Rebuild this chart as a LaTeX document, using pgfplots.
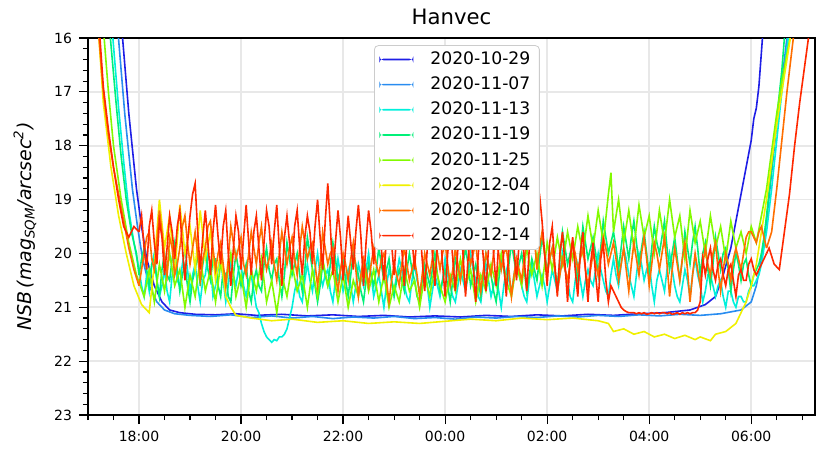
\documentclass[border=0pt]{standalone}
\usepackage{fontspec}
\setmainfont{DejaVu Sans}
\usepackage{pgfplots}
\usepackage{pgfplotstable}
\pgfplotsset{compat=1.18}
\definecolor{c1}{RGB}{30,30,230}
\definecolor{c2}{RGB}{40,140,240}
\definecolor{c3}{RGB}{0,240,220}
\definecolor{c4}{RGB}{0,240,120}
\definecolor{c5}{RGB}{130,250,0}
\definecolor{c6}{RGB}{240,240,0}
\definecolor{c7}{RGB}{255,110,0}
\definecolor{c8}{RGB}{255,40,0}
\pgfplotsset{
  lg/.style={legend image code/.code={\fill[fill=#1, draw=none] (0pt,-0.4pt) rectangle (17pt,0.4pt);}},
}
\pgfplotstableread{
x H G C D
18.00 19.6 20.6 20.3 20.4
18.05 19.3 20.3 20.6 20.1
18.10 19.9 20.0 20.8 19.9
18.15 20.3 19.7 20.4 20.3
18.20 19.5 19.6 20.7 20.6
18.25 19.2 20.1 20.2 20.2
18.30 19.8 20.3 20.0 20.1
18.35 20.2 19.8 20.5 20.5
18.40 19.4 19.2 20.8 20.8
18.45 19.7 19.6 20.6 20.3
18.50 20.4 20.1 20.3 20.0
18.55 19.9 20.4 20.7 20.4
18.60 19.3 19.7 20.9 20.5
18.65 19.6 19.9 20.4 20.1
18.70 20.1 20.4 20.1 19.8
18.75 19.5 20.2 20.5 20.3
18.80 19.2 19.9 20.6 20.7
18.85 19.9 19.5 20.2 20.4
18.90 20.5 19.3 19.9 20.2
18.95 19.8 19.8 20.3 20.6
19.00 19.3 20.2 20.7 20.9
19.05 18.9 19.9 20.4 20.5
19.10 18.7 19.6 20.2 20.3
19.15 19.6 20.0 20.6 20.0
19.20 20.3 20.5 20.9 20.6
19.25 19.7 20.1 20.5 20.2
19.30 19.2 19.9 20.4 19.9
19.35 19.8 19.5 20.0 20.3
19.40 20.4 19.4 20.2 20.5
19.45 19.6 19.9 20.8 20.1
19.50 19.1 20.3 20.6 20.1
19.55 19.7 20.0 20.3 20.6
19.60 20.2 19.8 20.1 20.8
19.65 19.5 20.2 20.5 20.3
19.70 19.2 20.6 20.9 20.4
19.75 20.0 20.1 20.6 20.8
19.80 20.6 19.5 20.1 20.9
19.85 19.9 19.8 20.4 20.4
19.90 19.3 20.1 20.6 20.0
19.95 19.6 19.9 20.3 20.3
20.00 20.3 19.7 20.2 20.6
20.05 19.7 20.2 20.6 20.4
20.10 19.1 20.4 20.8 20.2
20.15 19.8 20.0 20.5 20.7
20.20 20.4 19.6 20.4 20.9
20.25 19.6 19.9 20.7 20.5
20.30 19.3 20.2 21.0 20.3
20.35 19.9 19.8 21.1 20.6
20.40 20.5 19.5 21.3 20.7
20.45 19.8 20.0 21.45 20.2
20.50 19.2 20.3 21.55 19.9
20.55 19.5 20.1 21.6 20.3
20.60 20.2 19.8 21.65 20.5
20.65 19.6 20.2 21.6 20.2
20.70 19.1 20.5 21.62 20.1
20.75 19.9 20.0 21.55 20.5
20.80 20.6 19.6 21.55 20.8
20.85 19.7 19.9 21.5 20.4
20.90 19.3 20.2 21.4 19.8
20.95 19.8 19.9 21.2 20.1
21.00 20.3 19.7 21.0 20.4
21.05 19.5 20.1 20.7 20.2
21.10 19.2 20.4 20.5 20.0
21.15 19.9 19.9 20.8 20.4
21.20 20.4 19.5 20.9 20.7
21.25 19.7 19.8 20.5 20.3
21.30 19.3 20.1 20.2 19.7
21.35 19.6 19.9 20.5 20.0
21.40 20.2 19.8 20.7 20.3
21.45 19.5 20.2 20.3 20.6
21.50 19.0 20.6 20.0 20.9
21.55 19.7 20.2 20.4 20.6
21.60 20.3 19.6 20.6 20.2
21.65 19.4 19.9 20.4 20.4
21.70 18.7 20.2 20.3 20.6
21.75 19.5 20.0 20.7 20.2
21.80 20.4 19.9 20.9 19.8
21.85 19.8 20.4 20.5 20.1
21.90 19.2 20.7 20.1 20.5
21.95 19.7 20.3 20.4 20.3
22.00 20.5 20.0 20.7 20.1
22.05 19.9 20.2 20.5 20.5
22.10 19.3 20.5 20.3 20.8
22.15 19.8 20.1 20.6 20.4
22.20 20.3 19.8 20.9 20.0
22.25 19.6 20.3 20.6 20.2
22.30 19.1 20.8 20.2 20.4
22.35 19.7 20.4 20.4 20.7
22.40 20.6 20.1 20.6 20.9
22.45 19.8 20.3 20.3 20.5
22.50 19.2 20.6 20.0 20.2
22.55 19.6 20.2 20.4 20.4
22.60 20.2 19.9 20.8 20.6
22.65 19.5 20.2 20.6 20.3
22.70 19.1 20.4 20.4 19.9
22.75 19.9 20.1 20.7 20.2
22.80 20.5 20.0 21.0 20.5
22.85 19.7 20.5 20.6 20.3
22.90 19.3 20.9 20.3 20.1
22.95 19.8 20.5 20.5 20.5
23.00 20.4 20.2 20.7 20.8
23.05 19.6 20.4 20.4 20.5
23.10 19.2 20.6 20.1 20.3
23.15 19.9 20.2 20.3 20.5
23.20 20.6 19.9 20.6 20.7
23.25 19.8 20.2 20.8 20.3
23.30 19.3 20.5 20.9 20.0
23.35 19.7 20.3 20.5 20.3
23.40 20.3 20.1 20.2 20.5
23.45 19.6 20.4 20.5 20.8
23.50 19.4 20.8 20.7 20.9
23.55 20.1 20.4 20.5 20.5
23.60 20.7 20.0 20.3 20.2
23.65 19.9 20.2 20.6 20.4
23.70 19.4 20.4 21.0 20.6
23.75 20.0 20.1 20.7 20.3
23.80 20.6 19.7 20.4 20.0
23.85 19.8 20.0 20.6 20.4
23.90 19.5 20.3 20.8 20.7
23.95 20.2 20.0 20.5 20.5
24.00 20.8 19.8 20.1 20.3
24.05 20.0 20.2 20.4 20.6
24.10 19.5 20.6 20.6 20.9
24.15 20.1 20.3 20.8 20.5
24.20 20.7 19.9 20.9 20.1
24.25 19.9 20.2 20.6 20.3
24.30 19.4 20.5 20.3 20.5
24.35 20.0 20.1 20.5 20.2
24.40 20.8 19.6 20.7 19.9
24.45 20.1 19.9 20.4 20.2
24.50 19.6 20.2 20.0 20.6
24.55 20.2 20.0 20.3 20.4
24.60 20.9 19.8 20.5 20.2
24.65 20.0 20.3 20.8 20.5
24.70 19.5 20.7 20.9 20.8
24.75 20.1 20.3 20.5 20.4
24.80 20.7 20.0 20.2 20.0
24.85 19.9 20.2 20.5 20.2
24.90 19.4 20.4 20.8 20.4
24.95 20.0 20.0 20.6 20.7
25.00 20.6 19.7 20.4 20.9
25.05 19.8 20.0 20.7 20.5
25.10 19.5 20.3 21.0 20.1
25.15 20.2 20.0 20.6 20.3
25.20 20.8 19.9 20.3 20.6
25.25 19.9 20.3 20.5 20.2
25.30 19.4 20.8 20.7 19.8
25.35 19.9 20.4 20.4 20.1
25.40 20.5 20.1 20.1 20.4
25.45 19.8 20.3 20.4 20.2
25.50 19.5 20.5 20.6 20.0
25.55 20.1 20.1 20.8 20.3
25.60 20.7 19.8 20.9 20.7
25.65 19.9 19.5 20.5 20.4
25.70 19.3 19.2 20.2 20.1
25.75 19.0 19.7 20.5 20.3
25.80 18.8 20.3 20.8 20.5
25.85 18.9 19.9 20.6 20.1
25.90 19.4 19.6 20.4 19.7
25.95 20.0 20.0 20.6 20.0
26.00 20.6 20.4 20.9 20.3
26.05 19.8 20.1 20.6 20.1
26.10 19.5 19.9 20.3 19.9
26.15 20.2 20.3 20.5 20.3
26.20 20.8 20.7 20.7 20.6
26.25 20.0 20.4 20.4 20.1
26.30 19.6 20.1 20.0 19.6
26.35 20.2 20.3 20.3 19.9
26.40 20.9 20.5 20.5 20.2
26.45 20.1 20.2 20.8 20.0
26.50 19.7 19.8 20.9 19.8
26.55 20.3 20.0 20.5 20.2
26.60 20.8 20.3 20.2 20.5
26.65 20.0 20.1 20.5 20.0
26.70 19.6 19.9 20.8 19.5
26.75 20.3 20.3 20.5 19.8
26.80 20.9 20.6 20.3 20.1
26.85 20.2 20.3 20.5 19.9
26.90 19.8 20.0 20.6 19.7
26.95 20.4 20.2 20.3 20.0
27.00 20.9 20.4 20.0 20.4
27.05 20.1 20.0 20.3 19.9
27.10 19.8 19.7 20.5 19.4
27.15 20.5 19.9 20.7 19.7
27.20 20.9 20.2 20.8 20.0
27.25 20.6 20.0 20.4 19.8
27.30 20.7 19.8 20.1 19.6
27.35 20.8 20.1 20.4 19.9
27.40 20.9 20.5 20.6 20.3
27.45 21.0 20.2 20.2 19.9
27.50 21.05 19.9 19.9 19.5
27.55 21.08 20.3 20.1 19.8
27.60 21.1 20.7 20.4 20.1
27.65 21.1 20.2 20.6 19.7
27.70 21.1 19.8 20.8 19.4
27.75 21.12 20.1 20.4 19.8
27.80 21.1 20.4 20.0 20.2
27.85 21.12 20.0 20.2 19.9
27.90 21.1 19.7 20.5 19.6
27.95 21.13 20.1 20.3 20.0
28.00 21.12 20.6 20.2 20.4
28.05 21.1 20.2 20.6 19.9
28.10 21.12 19.8 20.9 19.5
28.15 21.1 20.0 20.5 19.8
28.20 21.12 20.3 20.3 20.0
28.25 21.1 20.0 20.5 19.7
28.30 21.1 19.7 20.7 19.4
28.35 21.12 20.2 20.3 19.9
28.40 21.1 20.8 20.0 20.3
28.45 21.13 20.3 20.3 20.0
28.50 21.12 19.9 20.6 19.7
28.55 21.1 20.2 20.8 20.1
28.60 21.13 20.5 20.9 20.5
28.65 21.1 20.1 20.6 20.1
28.70 21.12 19.8 20.3 19.6
28.75 21.1 20.3 20.5 19.9
28.80 21.12 20.9 20.8 20.2
28.85 21.1 20.4 20.4 19.8
28.90 21.1 20.0 20.1 19.5
28.95 21.05 20.3 20.4 19.9
29.00 20.9 20.6 20.6 20.4
29.05 20.1 20.2 20.9 20.0
29.10 20.4 19.9 20.7 19.8
29.15 20.1 20.2 20.4 20.3
29.20 19.9 20.4 20.4 20.6
29.25 20.3 20.0 20.6 20.2
29.30 20.5 19.8 20.8 19.7
29.35 20.2 20.3 20.6 20.0
29.40 20.1 20.7 20.5 20.3
29.45 20.4 20.3 20.8 20.0
29.50 20.6 20.0 21.0 19.9
29.55 20.3 20.2 20.7 20.3
29.60 20.2 20.5 20.7 20.7
29.65 20.5 20.1 20.9 20.3
29.70 20.8 19.9 21.0 20.0
29.75 20.4 20.1 20.8 20.2
29.80 20.3 20.3 20.8 20.5
29.85 20.5 20.0 20.9 20.2
29.90 20.5 19.7 20.9 20.1
29.95 20.2 19.6 20.7 20.4
30.00 20.1 19.6 20.6 20.6
30.05 20.3 19.7 20.6 20.4
30.10 20.4 19.8 20.5 20.3
30.15 20.3 19.6 20.4 20.2
30.20 20.2 19.5 20.2 20.0
30.25 20.1 19.7 19.9 19.7
30.30 20.0 19.9 19.6 19.3
}\night
\begin{document}
\begin{tikzpicture}
\useasboundingbox (-44pt,-17pt) rectangle (365pt,207.5pt);
\begin{axis}[
  at={(0,0)}, anchor=south west,
  width=363.5pt, height=188.5pt, scale only axis,
  xmin=17, xmax=31.25, ymin=16, ymax=23, y dir=reverse,
  xtick={18,20,22,24,26,28,30},
  xticklabels={18:00,20:00,22:00,00:00,02:00,04:00,06:00},
  minor xtick={17,17.5,...,31},
  ytick={16,17,...,23}, minor y tick num=4,
  tick align=outside, xtick pos=bottom, ytick pos=left,
  major tick length=4.5pt, minor tick length=2.5pt,
  grid=major, major grid style={color=black!9, line width=0.8pt},
  tick style={black, line width=0.6pt},
  axis line style={line width=0.7pt},
  ticklabel style={font=\fontsize{7}{8}\selectfont},
  /pgf/number format/assume math mode=true,
  title={Hanvec},
  title style={at={(0.5,1)}, anchor=base, yshift=1pt, inner sep=0pt, font=\fontsize{10.6}{12}\selectfont},
  ylabel={\textit{NSB\,(mag\textsubscript{SQM}/arcsec\textsuperscript{2})}},
  ylabel style={at={(axis description cs:-0.0867,0.5)}, anchor=center, font=\fontsize{9.5}{11}\selectfont},
  legend style={at={(0.3934,0.981)}, anchor=north west, fill=white, draw=black!20, rounded corners=2pt, font=\fontsize{8.6}{10}\selectfont, nodes={inner sep=2pt}, row sep=0.7pt, column sep=6.5pt, inner xsep=2.5pt, inner ysep=1pt},
  legend cell align=left,
  every axis plot/.append style={line width=0.8pt},
]
% 2020-10-29
\addplot[draw=c1, lg=c1] coordinates {(17.66,15.8)(17.8,17.4)(17.95,18.8)(18.05,19.5)(18.15,20.1)(18.3,20.6)(18.45,20.9)(18.6,21.05)(18.8,21.1)(19.1,21.13)(19.5,21.14)(19.9,21.12)(20.3,21.15)(20.8,21.13)(21.3,21.16)(21.8,21.14)(22.3,21.17)(22.8,21.15)(23.3,21.18)(23.8,21.16)(24.3,21.18)(24.8,21.15)(25.3,21.17)(25.8,21.14)(26.3,21.16)(26.8,21.13)(27.3,21.15)(27.8,21.12)(28.3,21.1)(28.8,21.05)(29.1,20.95)(29.3,20.8)(29.45,20.4)(29.6,19.9)(29.7,19.4)(29.8,18.9)(29.9,18.4)(30.0,17.9)(30.05,17.5)(30.1,17.3)(30.15,16.9)(30.22,16.0)(30.25,15.8)};
\addlegendentry{2020-10-29}
% 2020-11-07
\addplot[draw=c2, lg=c2] coordinates {(17.58,15.8)(17.72,17.4)(17.87,18.8)(17.97,19.5)(18.07,20.1)(18.2,20.6)(18.35,20.9)(18.5,21.05)(18.7,21.12)(19.0,21.15)(19.4,21.17)(19.8,21.14)(20.2,21.19)(20.6,21.16)(21.0,21.2)(21.4,21.17)(21.8,21.21)(22.2,21.18)(22.6,21.2)(23.0,21.17)(23.4,21.21)(23.8,21.19)(24.2,21.22)(24.6,21.18)(25.0,21.2)(25.4,21.17)(25.8,21.19)(26.2,21.16)(26.6,21.18)(27.0,21.15)(27.4,21.17)(27.8,21.14)(28.2,21.16)(28.6,21.13)(29.0,21.15)(29.4,21.12)(29.8,21.05)(30.0,20.9)(30.1,20.6)(30.2,20.1)(30.3,19.4)(30.4,18.5)(30.5,17.6)(30.6,16.8)(30.7,16.0)(30.75,15.8)};
\addlegendentry{2020-11-07}
% 2020-11-13
\addplot[draw=c3, lg=c3] table[x=x,y=C] {\night};
\addlegendentry{2020-11-13}
\addplot[draw=c3, forget plot] coordinates {(17.47,15.8)(17.6,17.3)(17.7,18.3)(17.8,19.2)(17.9,19.8)(18.0,20.3)};
\addplot[draw=c3, forget plot] coordinates {(30.3,19.6)(30.4,18.8)(30.5,17.9)(30.6,17.0)(30.7,16.2)(30.75,15.8)};
% 2020-11-19
\addplot[draw=c4, lg=c4] table[x=x,y=D] {\night};
\addlegendentry{2020-11-19}
\addplot[draw=c4, forget plot] coordinates {(17.42,15.8)(17.55,17.2)(17.65,18.2)(17.75,19.0)(17.85,19.6)(17.95,20.0)(18.0,20.4)};
\addplot[draw=c4, forget plot] coordinates {(30.3,19.3)(30.4,18.4)(30.5,17.5)(30.6,16.6)(30.65,16.0)(30.7,15.8)};
% 2020-11-25
\addplot[draw=c5, lg=c5] coordinates {(17.3,15.8)(17.4,17.0)(17.5,18.0)(17.65,19.0)(17.8,19.8)(17.95,20.4)(18.1,20.8)(18.2,20.3)(18.3,20.9)(18.4,20.2)(18.5,20.7)(18.6,20.0)(18.7,20.6)(18.8,20.3)(18.9,21.0)(19.0,20.4)(19.1,20.8)(19.2,20.1)(19.3,20.7)(19.4,20.3)(19.5,20.9)(19.6,20.2)(19.7,20.6)(19.8,20.0)(19.9,20.8)(20.0,20.4)(20.1,21.0)(20.2,20.3)(20.3,20.7)(20.4,20.1)(20.5,20.9)(20.6,20.5)(20.7,21.1)(20.8,20.4)(20.9,20.8)(21.0,20.2)(21.1,20.7)(21.2,20.4)(21.3,21.0)(21.4,20.3)(21.5,20.8)(21.6,20.1)(21.7,20.6)(21.8,20.3)(21.9,20.9)(22.0,20.4)(22.1,21.0)(22.2,20.5)(22.3,20.8)(22.4,20.2)(22.5,20.7)(22.6,20.3)(22.7,20.9)(22.8,20.4)(22.9,21.0)(23.0,20.6)(23.1,20.9)(23.2,20.3)(23.3,20.7)(23.4,20.5)(23.5,21.0)(23.6,20.4)(23.7,20.8)(23.8,20.2)(23.9,20.6)(24.0,20.9)(24.1,20.4)(24.2,20.7)(24.3,20.1)(24.4,20.6)(24.5,20.3)(24.6,20.9)(24.7,20.4)(24.8,20.7)(24.9,20.2)(25.0,20.6)(25.1,20.0)(25.2,20.5)(25.3,20.8)(25.4,20.2)(25.5,20.6)(25.6,19.9)(25.7,20.4)(25.8,20.0)(25.9,20.6)(26.0,19.8)(26.1,20.3)(26.2,19.7)(26.3,20.2)(26.4,19.6)(26.5,20.1)(26.6,19.5)(26.7,20.0)(26.8,19.3)(26.9,19.9)(27.0,19.2)(27.1,19.8)(27.2,18.9)(27.25,18.5)(27.3,19.6)(27.4,19.0)(27.5,19.8)(27.6,19.2)(27.7,19.9)(27.8,19.1)(27.9,19.7)(28.0,19.3)(28.1,20.0)(28.2,19.2)(28.3,19.8)(28.4,19.0)(28.5,19.7)(28.6,19.3)(28.7,20.1)(28.8,19.2)(28.9,19.8)(29.0,19.4)(29.1,20.0)(29.2,19.3)(29.3,19.9)(29.4,19.5)(29.5,20.1)(29.6,19.4)(29.7,19.9)(29.8,19.6)(29.9,20.0)(30.0,19.5)(30.1,19.8)(30.2,19.3)(30.3,18.8)(30.4,18.1)(30.5,17.4)(30.6,16.8)(30.7,16.3)(30.8,15.8)};
\addlegendentry{2020-11-25}
% 2020-12-04
\addplot[draw=c6, lg=c6] coordinates {(17.2,15.8)(17.3,17.2)(17.45,18.4)(17.6,19.3)(17.75,20.0)(17.9,20.6)(18.05,20.95)(18.2,21.1)(18.3,20.2)(18.4,19.0)(18.5,19.9)(18.6,19.3)(18.7,20.4)(18.8,19.1)(18.9,20.0)(19.0,19.5)(19.1,20.3)(19.2,19.2)(19.3,20.1)(19.4,19.6)(19.5,20.5)(19.6,20.0)(19.7,20.8)(19.8,21.0)(19.9,21.15)(20.2,21.2)(20.6,21.25)(21.0,21.22)(21.5,21.28)(22.0,21.25)(22.5,21.3)(23.0,21.27)(23.5,21.3)(24.0,21.26)(24.5,21.22)(25.0,21.25)(25.5,21.2)(26.0,21.23)(26.5,21.2)(27.0,21.25)(27.2,21.3)(27.3,21.45)(27.5,21.4)(27.7,21.5)(27.9,21.45)(28.1,21.55)(28.3,21.5)(28.5,21.58)(28.7,21.52)(28.9,21.6)(29.0,21.55)(29.2,21.62)(29.3,21.5)(29.5,21.45)(29.7,21.3)(29.8,21.1)(29.9,20.9)(30.0,20.6)(30.1,20.2)(30.2,19.6)(30.3,19.0)(30.4,18.3)(30.5,17.6)(30.6,17.0)(30.7,16.4)(30.8,15.8)};
\addlegendentry{2020-12-04}
% 2020-12-10
\addplot[draw=c7, lg=c7] table[x=x,y=G] {\night};
\addlegendentry{2020-12-10}
\addplot[draw=c7, forget plot] coordinates {(17.2,15.8)(17.3,17.0)(17.4,17.8)(17.5,18.4)(17.6,18.9)(17.7,19.4)(17.8,19.9)(17.9,20.3)(18.0,20.6)};
\addplot[draw=c7, forget plot] coordinates {(30.3,19.9)(30.4,19.6)(30.5,18.8)(30.6,17.9)(30.7,17.0)(30.8,16.2)(30.85,15.8)};
% 2020-12-14
\addplot[draw=c8, lg=c8] table[x=x,y=H] {\night};
\addlegendentry{2020-12-14}
\addplot[draw=c8, forget plot] coordinates {(17.22,15.8)(17.3,16.9)(17.4,17.7)(17.5,18.4)(17.6,19.0)(17.7,19.5)(17.8,19.7)(17.9,19.5)(18.0,19.6)};
\addplot[draw=c8, forget plot] coordinates {(30.3,20.0)(30.35,19.9)(30.45,20.2)(30.55,20.3)(30.65,19.6)(30.75,18.9)(30.85,18.0)(30.95,17.2)(31.05,16.5)(31.15,15.8)};
\end{axis}
\end{tikzpicture}
\end{document}
